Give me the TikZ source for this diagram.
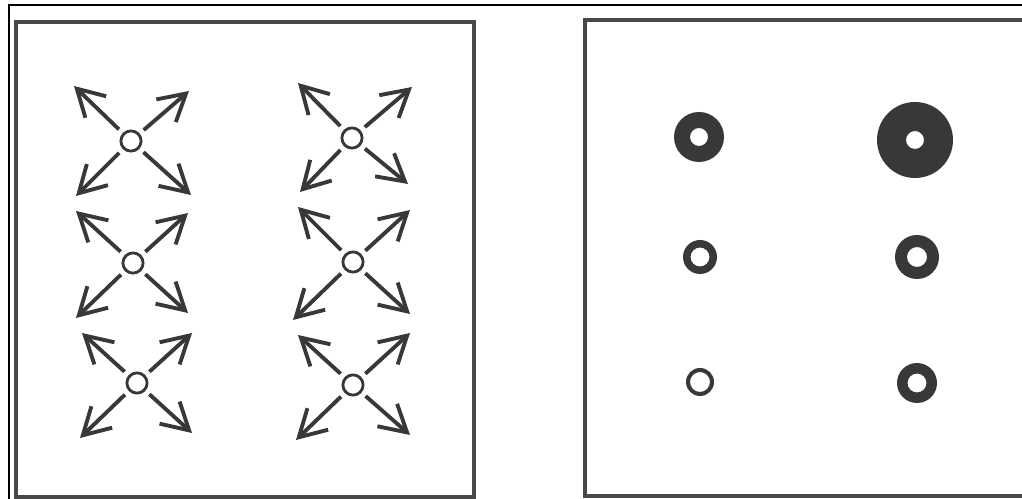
\documentclass[tikz,border=0pt]{standalone}
\usetikzlibrary{arrows.meta}
\definecolor{ink}{HTML}{383838}
\definecolor{panel}{HTML}{484848}
\tikzset{
  src/.style={circle, draw=ink, line width=1.6pt, minimum size=11.5pt, inner sep=0pt},
  spread/.style={ink, line width=2.2pt, shorten <=3pt, -{Straight Barb[length=15pt,width=17pt,line width=2.2pt]}},
  ring/.style={fill=ink, even odd rule},
}
\begin{document}
\begin{tikzpicture}[x=0.02cm,y=-0.02cm]
            \useasboundingbox (0,0) rectangle (1022,499);
            \clip (0,0) rectangle (1022,499);
            \fill[white] (0,0) rectangle (1022,499);
            \draw[black, line width=1pt] (9,499) -- (9,5) -- (1022,5);
            \draw[panel, line width=1.8pt] (16,22) rectangle (474,497);
            \draw[panel, line width=1.8pt] (585,20) rectangle (1030,496);
            % left panel: spreading sources
            \begin{scope}[shift={(131,141)}]
                \node[src] (a1) at (0,0) {};
                \draw[spread] (a1) -- +(-57,-55);
                \draw[spread] (a1) -- +(58,-50);
                \draw[spread] (a1) -- +(-55,55);
                \draw[spread] (a1) -- +(60,54);
            \end{scope}
            \begin{scope}[shift={(133,263)}]
                \node[src] (a2) at (0,0) {};
                \draw[spread] (a2) -- +(-57,-52);
                \draw[spread] (a2) -- +(55,-50);
                \draw[spread] (a2) -- +(-57,55);
                \draw[spread] (a2) -- +(55,50);
            \end{scope}
            \begin{scope}[shift={(137,383)}]
                \node[src] (a3) at (0,0) {};
                \draw[spread] (a3) -- +(-55,-50);
                \draw[spread] (a3) -- +(55,-50);
                \draw[spread] (a3) -- +(-57,55);
                \draw[spread] (a3) -- +(55,50);
            \end{scope}
            \begin{scope}[shift={(352,138)}]
                \node[src] (b1) at (0,0) {};
                \draw[spread] (b1) -- +(-54,-55);
                \draw[spread] (b1) -- +(60,-51);
                \draw[spread] (b1) -- +(-52,54);
                \draw[spread] (b1) -- +(56,46);
            \end{scope}
            \begin{scope}[shift={(353,262)}]
                \node[src] (b2) at (0,0) {};
                \draw[spread] (b2) -- +(-55,-55);
                \draw[spread] (b2) -- +(57,-52);
                \draw[spread] (b2) -- +(-60,58);
                \draw[spread] (b2) -- +(57,52);
            \end{scope}
            \begin{scope}[shift={(353,385)}]
                \node[src] (b3) at (0,0) {};
                \draw[spread] (b3) -- +(-55,-50);
                \draw[spread] (b3) -- +(57,-52);
                \draw[spread] (b3) -- +(-57,55);
                \draw[spread] (b3) -- +(57,50);
            \end{scope}
            % right panel: rings
            \fill[ring] (699,137) circle (25) circle (9);
            \fill[ring] (915,140) circle (38) circle (9);
            \fill[ring] (700,257) circle (17) circle (9.5);
            \fill[ring] (917,257) circle (22) circle (10);
            \fill[ring] (700,382) circle (14) circle (10);
            \fill[ring] (917,383) circle (20) circle (9.5);
        \end{tikzpicture}
\end{document}
